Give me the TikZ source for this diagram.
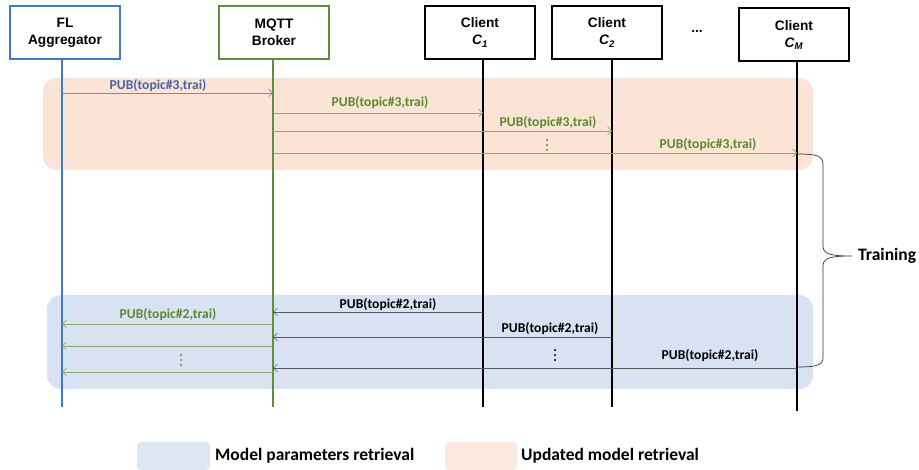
\documentclass[tikz,border=0pt]{standalone}
\usepackage{fontspec}
\setmainfont{Liberation Sans}
\newfontfamily\calfont{Carlito}
\usetikzlibrary{arrows.meta,calc}
\definecolor{aggblue}{HTML}{3D7CC0}
\definecolor{brkgreen}{HTML}{5E8E3E}
\definecolor{lblgreen}{HTML}{5A8A2E}
\definecolor{lblblue}{HTML}{4466A6}
\definecolor{arrblue}{HTML}{6F8FC4}
\definecolor{arrgreen}{HTML}{8DAA72}
\definecolor{arrgray}{HTML}{595959}
\definecolor{orfill}{HTML}{FBE4D5}
\definecolor{blfill}{HTML}{D9E2F3}
\definecolor{leglue}{HTML}{DEE5F3}
\definecolor{legor}{HTML}{FCE9DE}
\tikzset{
  actor/.style={draw, line width=2pt, fill=white, minimum width=110pt, minimum height=53pt,
    align=center, inner sep=0pt, font=\fontsize{13.7}{17}\selectfont\bfseries},
  life/.style={line width=1.4pt},
  msg/.style={line width=0.8pt, -{Straight Barb[length=4pt,width=8pt,line width=0.7pt]}},
  lbl/.style={font=\calfont\fontsize{13.6}{15}\selectfont\bfseries, inner sep=0pt},
  region/.style={rounded corners=14pt, draw=none},
  legtxt/.style={font=\calfont\fontsize{17.5}{20}\selectfont\bfseries, anchor=west, inner sep=0pt},
  vdot/.style={circle, inner sep=0pt, minimum size=2.3pt},
}
\begin{document}
\begin{tikzpicture}[x=1pt,y=-1pt]
\useasboundingbox (0,0) rectangle (919,470);
% regions
\fill[orfill, region] (43,78) rectangle (813,170);
\fill[blfill, region] (47,295) rectangle (813,389);
% actors
\node[actor, draw=aggblue] (agg) at (65,32.5) {FL\\Aggregator};
\node[actor, draw=brkgreen] (brk) at (274,32.5) {MQTT\\Broker};
\node[actor, draw=black] (c1) at (480,32.5) {Client\\\textit{C}\textsubscript{\textit{1}}};
\node[actor, draw=black] (c2) at (607,32.5) {Client\\\textit{C}\textsubscript{\textit{2}}};
\node[actor, draw=black] (cm) at (794,35) {Client\\\textit{C}\textsubscript{\textit{M}}};
\node[font=\fontsize{13.7}{17}\selectfont\bfseries] (dots) at (697,31) {...};
% lifeline coordinates
\coordinate (A) at (62,0);
\coordinate (B) at (273,0);
\coordinate (K1) at (483,0);
\coordinate (K2) at (612,0);
\coordinate (KM) at (797,0);
\coordinate (end) at (0,407);
\coordinate (endM) at (0,411);
\draw[life, aggblue] (A |- agg.south) -- (A |- end);
\draw[life, brkgreen] (B |- brk.south) -- (B |- end);
\draw[life] (K1 |- c1.south) -- (K1 |- end);
\draw[life] (K2 |- c2.south) -- (K2 |- end);
\draw[life] (KM |- cm.south) -- (KM |- endM);
% row coordinates
\coordinate (r1) at (0,93);
\coordinate (r2) at (0,113);
\coordinate (r3) at (0,131);
\coordinate (r4) at (0,153);
\coordinate (s1) at (0,312);
\coordinate (s2) at (0,324);
\coordinate (s3) at (0,337);
\coordinate (s4) at (0,346);
\coordinate (s5) at (0,368);
\coordinate (s6) at (0,372);
% updated model retrieval
\draw[msg, arrblue] (A |- r1) -- (B |- r1);
\draw[msg, arrgreen] (B |- r2) -- (K1 |- r2);
\draw[msg, arrgreen] (B |- r3) -- (K2 |- r3);
\draw[msg, arrgreen] (B |- r4) -- (KM |- r4);
\node[lbl, lblblue] (l1) at (158,86) {PUB(topic\#3,trai)};
\node[lbl, lblgreen] (l2) at (380,103) {PUB(topic\#3,trai)};
\node[lbl, lblgreen] (l3) at (548,123) {PUB(topic\#3,trai)};
\node[lbl, lblgreen] (l4) at (708,145) {PUB(topic\#3,trai)};
\foreach \yy in {140,145,150} \node[vdot, fill=lblgreen] at (547,\yy) {};
% model parameters retrieval
\draw[msg, arrgray] (K1 |- s1) -- (B |- s1);
\draw[msg, arrgreen] (B |- s2) -- (A |- s2);
\draw[msg, arrgray] (K2 |- s3) -- (B |- s3);
\draw[msg, arrgreen] (B |- s4) -- (A |- s4);
\draw[msg, arrgray] (KM |- s5) -- (B |- s5);
\draw[msg, arrgreen] (B |- s6) -- (A |- s6);
\node[lbl, black] (l5) at (388,305) {PUB(topic\#2,trai)};
\node[lbl, lblgreen] (l6) at (168,315) {PUB(topic\#2,trai)};
\node[lbl, black] (l7) at (550,329) {PUB(topic\#2,trai)};
\node[lbl, black] (l8) at (710,356) {PUB(topic\#2,trai)};
\foreach \yy in {355,360,365} \node[vdot, fill=lblgreen] at (181,\yy) {};
\foreach \yy in {350,355,360} \node[vdot, fill=black] at (555,\yy) {};
% training brace
\coordinate (bt) at (797,154);
\coordinate (tip) at (852,256);
\coordinate (bb) at (797,367);
\draw[line width=0.7pt, black!80] (bt) .. controls (818,154) and (823,156) .. (823,165)
  -- (823,246) .. controls (823,254) and (830,256) .. (tip)
  .. controls (830,256) and (823,258) .. (823,266)
  -- (823,357) .. controls (823,365) and (818,367) .. (bb);
\node[legtxt] (train) at ([xshift=6pt]tip) {Training};
% legend
\fill[leglue, rounded corners=4pt] (137,442) rectangle (210,470);
\node[legtxt] (leg1) at (215,456) {Model parameters retrieval};
\fill[legor, rounded corners=4pt] (445,442) rectangle (517,470);
\node[legtxt] (leg2) at (521,456) {Updated model retrieval};
\end{tikzpicture}
\end{document}
